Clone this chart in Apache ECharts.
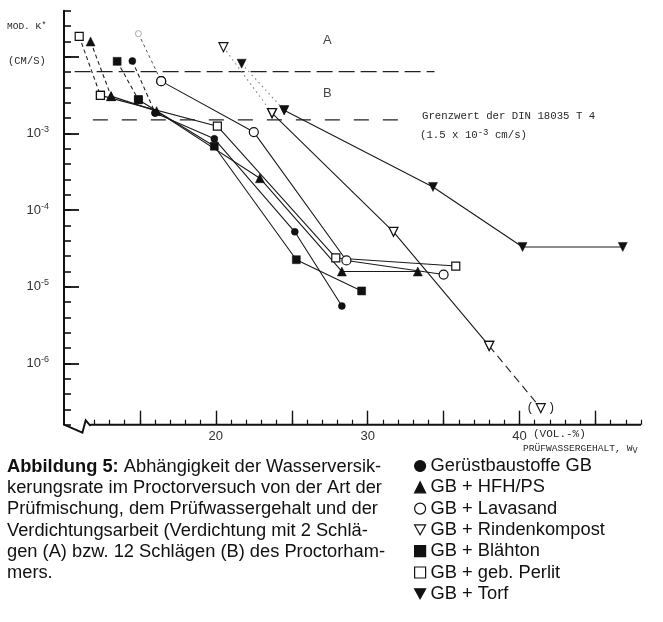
<!DOCTYPE html>
<html><head><meta charset="utf-8">
<script src="https://cdn.jsdelivr.net/npm/echarts@6/dist/echarts.min.js"></script>
<style>html,body{margin:0;padding:0;background:#fff}#c{width:663px;height:622px}</style>
</head><body><div id="c"></div>
<script>
// ---- data (x = Prüfwassergehalt Vol.-%, k = cm/s) ----
const gbX = [14.5, 16.0, 19.9, 25.2, 28.3];
const gbK = [8.8e-3, 1.85e-3, 8.5e-4, 5.2e-5, 5.6e-6];
const hfhX = [11.75, 13.1, 16.1, 22.9, 28.3, 33.3];
const hfhK = [1.58e-2, 3.06e-3, 1.95e-3, 2.6e-4, 1.58e-5, 1.58e-5];
const lavaX = [14.9, 16.4, 22.5, 28.6, 35.0];
const lavaK = [2.0e-2, 4.8e-3, 1.04e-3, 2.2e-5, 1.44e-5];
const rindeX = [20.5, 23.7, 31.7, 38.0, 41.4];
const rindeK = [1.33e-2, 1.84e-3, 5.2e-5, 1.69e-6, 2.6e-7];
const blahX = [13.5, 14.9, 19.9, 25.3, 29.6];
const blahK = [8.7e-3, 2.75e-3, 6.8e-4, 2.25e-5, 8.8e-6];
const perlX = [11.0, 12.4, 20.1, 27.9, 35.8];
const perlK = [1.84e-2, 3.13e-3, 1.24e-3, 2.37e-5, 1.86e-5];
const torfX = [21.7, 24.5, 34.3, 40.2, 46.8];
const torfK = [8.1e-3, 2.0e-3, 2.0e-4, 3.3e-5, 3.3e-5];

const lineAB_X = [10.7, 34.4];
const lineAB_K = 6.4e-3;
const limitX = [11.9, 32.8];
const limitK = 1.5e-3;

const names = ['Gerüstbaustoffe GB', 'GB + HFH/PS', 'GB + Lavasand', 'GB + Rindenkompost', 'GB + Blähton', 'GB + geb. Perlit', 'GB + Torf'];
const xMajorTicks = [15, 20, 25, 30, 35, 40, 45];
const xLabels = [20, 30, 40];
const yMajorTicks = [-6, -5, -4, -3, -2];
const yLabels = [-6, -5, -4, -3];

// ---- build ----
const INV = 'path://M0,0L10,0L5,9Z';
const lg = v => Math.log10(v);
const pts = (xs, ks) => xs.map((x, i) => [x, lg(ks[i])]);

const mats = [
  {name: names[0], x: gbX, k: gbK, sym: 'circle', size: 7, open: false, first: 'dash'},
  {name: names[1], x: hfhX, k: hfhK, sym: 'triangle', size: 9, open: false, first: 'dash'},
  {name: names[2], x: lavaX, k: lavaK, sym: 'circle', size: 9, open: true, first: 'dash2', faintFirst: true},
  {name: names[3], x: rindeX, k: rindeK, sym: INV, size: 9, open: true, first: 'dot', last: 'dash'},
  {name: names[4], x: blahX, k: blahK, sym: 'rect', size: 8, open: false, first: 'dash'},
  {name: names[5], x: perlX, k: perlK, sym: 'rect', size: 8, open: true, first: 'dash'},
  {name: names[6], x: torfX, k: torfK, sym: INV, size: 9, open: false, first: 'dot'}
];
const dashStyles = {
  dash: {type: [4, 3], color: '#222', width: 1.1},
  dash2: {type: [3, 3], color: '#555', width: 1},
  dot: {type: [1.5, 3.5], color: '#888', width: 1.2}
};
const series = [];
mats.forEach((m, idx) => {
  const p = pts(m.x, m.k);
  const itemStyle = m.open ? {color: '#fff', borderColor: '#111', borderWidth: 1.2} : {color: '#111', borderColor: '#111', borderWidth: 0.5};
  const n = m.last ? p.length - 1 : p.length;
  series.push({
    name: m.name, type: 'line', xAxisIndex: 0, yAxisIndex: 0,
    data: p.slice(1, n), symbol: m.sym, symbolSize: m.size, showAllSymbol: true,
    itemStyle, lineStyle: {color: '#1a1a1a', width: 1.1}, z: 3
  });
  const firstData = p.slice(0, 2).map((d, i) => (i === 0 && m.faintFirst)
    ? {value: d, symbolSize: 6, itemStyle: {color: '#fff', borderColor: '#aaa', borderWidth: 1}} : d);
  series.push({
    name: '_first' + idx, type: 'line', xAxisIndex: 0, yAxisIndex: 0,
    data: firstData, symbol: m.sym, symbolSize: m.size,
    itemStyle, lineStyle: dashStyles[m.first], z: 2
  });
  if (m.last) {
    series.push({
      name: '_last' + idx, type: 'line', xAxisIndex: 0, yAxisIndex: 0,
      data: p.slice(n - 1), symbol: m.sym, symbolSize: m.size,
      itemStyle, lineStyle: {type: [8, 5], color: '#222', width: 1.1}, z: 2,
      label: {show: true, position: 'inside', formatter: q => q.dataIndex === 1 ? '(  )' : '', fontFamily: 'Liberation Mono', fontSize: 12, color: '#222'}
    });
  }
});
series.push({
  name: '_lineAB', type: 'line', data: lineAB_X.map(x => [x, lg(lineAB_K)]), symbol: 'none',
  lineStyle: {type: [16, 6], color: '#222', width: 1.3}, z: 1
});
series.push({
  name: '_limit', type: 'line', data: limitX.map(x => [x, lg(limitK)]), symbol: 'none',
  lineStyle: {type: [15, 14], color: '#222', width: 1.3}, z: 1
});

const minorX = []; for (let v = 12; v <= 48; v++) minorX.push(v);

const monoTxt = '#2a2a2a';
const FS = 18.3;
const option = {
  animation: false,
  backgroundColor: '#fff',
  grid: {left: 64, right: 22, top: 10.7, bottom: 197.3, containLabel: false},
  xAxis: [
    {type: 'value', min: 10, max: 48, axisLine: {show: false}, splitLine: {show: false},
     axisTick: {inside: true, length: 5, customValues: minorX, lineStyle: {color: '#111', width: 1.2}},
     axisLabel: {show: false}},
    {type: 'value', min: 10, max: 48, position: 'bottom', axisLine: {show: false}, splitLine: {show: false},
     axisTick: {inside: true, length: 14, customValues: xMajorTicks, lineStyle: {color: '#111', width: 1.4}},
     axisLabel: {customValues: xLabels, margin: 5, fontFamily: 'Liberation Sans', fontSize: 13, color: '#333'}}
  ],
  yAxis: [
    {type: 'value', min: -6.8, max: -1.4, interval: 0.2, splitLine: {show: false},
     axisLine: {show: true, lineStyle: {color: '#111', width: 2}},
     axisTick: {inside: true, length: 7, lineStyle: {color: '#111', width: 1.6}},
     axisLabel: {show: false}},
    {type: 'value', min: -6.8, max: -1.4, position: 'left', splitLine: {show: false}, axisLine: {show: false},
     axisTick: {inside: true, length: 15, customValues: yMajorTicks, lineStyle: {color: '#111', width: 1.8}},
     axisLabel: {customValues: yLabels, margin: 15, formatter: v => '{b|10}{s|' + String(Math.round(v)) + '}',
       rich: {b: {fontFamily: 'Liberation Sans', fontSize: 13, color: '#333'}, s: {fontFamily: 'Liberation Sans', fontSize: 9, color: '#333', verticalAlign: 'top', padding: [0, 0, 8, 0]}}}}
  ],
  legend: {
    orient: 'vertical', left: 409, top: 452, itemGap: 3.3, itemWidth: 11, itemHeight: 11, itemStyle: {borderWidth: 1.2},
    textStyle: {fontFamily: 'Liberation Sans', fontSize: FS, color: '#111', lineHeight: 18},
    data: [
      {name: names[0], icon: 'circle'}, {name: names[1], icon: 'triangle'}, {name: names[2], icon: 'circle'},
      {name: names[3], icon: INV}, {name: names[4], icon: 'rect'}, {name: names[5], icon: 'rect'}, {name: names[6], icon: INV}
    ]
  },
  series,
  graphic: [
    {type: 'text', left: 7, top: 21, style: {text: '{a|MOD. K}{s|*}', rich: {a: {fontFamily: 'Liberation Mono', fontSize: 9.5, fill: monoTxt}, s: {fontFamily: 'Liberation Mono', fontSize: 9, fill: monoTxt, verticalAlign: 'top'}}}},
    {type: 'text', left: 8, top: 56, style: {text: '(CM/S)', fontFamily: 'Liberation Mono', fontSize: 10.5, fill: monoTxt}},
    {type: 'text', left: 323, top: 34, style: {text: 'A', fontFamily: 'Liberation Sans', fontSize: 13, fill: '#444'}},
    {type: 'text', left: 323, top: 87, style: {text: 'B', fontFamily: 'Liberation Sans', fontSize: 13, fill: '#444'}},
    {type: 'text', left: 422, top: 111, style: {text: 'Grenzwert der DIN 18035 T 4', fontFamily: 'Liberation Mono', fontSize: 10.7, fill: monoTxt}},
    {type: 'text', left: 420, top: 128, style: {text: '{a|(1.5 x 10}{s|-3}{a| cm/s)}', rich: {a: {fontFamily: 'Liberation Mono', fontSize: 10.7, fill: monoTxt}, s: {fontFamily: 'Liberation Mono', fontSize: 9, fill: monoTxt, verticalAlign: 'top', padding: [0, 0, 6, 0]}}}},
    {type: 'text', left: 533, top: 429, style: {text: '(VOL.-%)', fontFamily: 'Liberation Mono', fontSize: 11, fill: monoTxt}},
    {type: 'text', left: 523, top: 443, style: {text: '{a|PRÜFWASSERGEHALT, W}{s|V}', rich: {a: {fontFamily: 'Liberation Mono', fontSize: 9.6, fill: monoTxt}, s: {fontFamily: 'Liberation Mono', fontSize: 8.5, fill: monoTxt, verticalAlign: 'bottom', padding: [6, 0, 0, 0]}}}},
    {type: 'text', left: 7, top: 456, style: {
      text: '{b|Abbildung 5:} Abhängigkeit der Wasserversik-\nkerungsrate im Proctorversuch von der Art der\nPrüfmischung, dem Prüfwassergehalt und der\nVerdichtungsarbeit (Verdichtung mit 2 Schlä-\ngen (A) bzw. 12 Schlägen (B) des Proctorham-\nmers.',
      fontFamily: 'Liberation Sans', fontSize: FS, lineHeight: 21.3, fill: '#111',
      rich: {b: {fontFamily: 'Liberation Sans', fontWeight: 'bold', fontSize: FS, lineHeight: 21.3, fill: '#111'}}}}
  ]
};
const chart = echarts.init(document.getElementById('c'), null, {renderer: 'canvas'});
chart.setOption(option);

// x axis line with break symbol (decoration)
const c0 = chart.convertToPixel({xAxisIndex: 0, yAxisIndex: 0}, [10, -6.8]);
const c1 = chart.convertToPixel({xAxisIndex: 0, yAxisIndex: 0}, [48, -6.8]);
chart.setOption({graphic: option.graphic.concat([{
  type: 'polyline', z: 10,
  shape: {points: [[c0[0], c0[1]], [c0[0] + 18.4, c0[1] + 8], [c0[0] + 21.7, c0[1] - 4.4], [c0[0] + 26, c0[1] + 0.6], [c0[0] + 27, c0[1]], [c1[0], c1[1]]]},
  style: {stroke: '#111', lineWidth: 2, fill: null}
}])});
</script></body></html>
